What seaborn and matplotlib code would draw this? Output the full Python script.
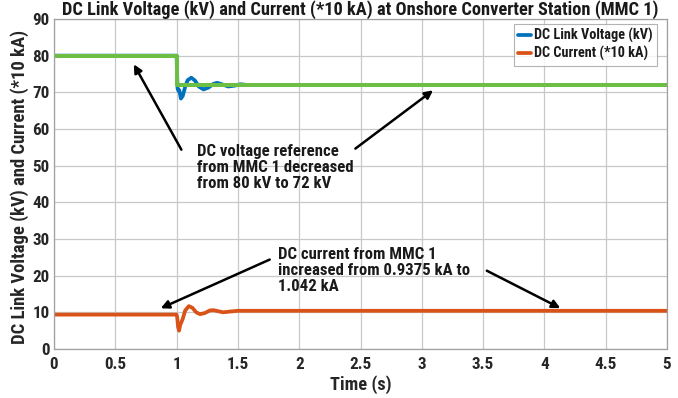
import matplotlib
matplotlib.use("Agg")
import matplotlib.pyplot as plt
from matplotlib import font_manager
import seaborn as sns
import pandas as pd

# ---- data ----
t_voltage = [0.0, 1.0, 1.003, 1.008, 1.015, 1.022, 1.035, 1.05, 1.07, 1.09, 1.12, 1.15,
             1.18, 1.22, 1.26, 1.30, 1.33, 1.37, 1.42, 1.47, 1.52, 1.58, 5.0]
dc_voltage = [80.0, 80.0, 76.0, 71.0, 70.4, 70.6, 68.3, 69.0, 71.5, 73.3, 74.0, 73.2,
              71.6, 70.8, 71.3, 72.3, 72.6, 72.2, 71.6, 71.8, 72.2, 72.0, 72.0]

t_current = [0.0, 1.0, 1.005, 1.012, 1.02, 1.03, 1.04, 1.05, 1.07, 1.10, 1.13, 1.16,
             1.19, 1.23, 1.27, 1.30, 1.34, 1.38, 1.43, 1.50, 5.0]
dc_current = [9.375, 9.375, 8.6, 6.0, 5.0, 6.6, 7.4, 8.2, 10.5, 11.7, 11.2, 10.0,
              9.5, 9.8, 10.5, 10.6, 10.3, 10.0, 10.2, 10.42, 10.42]

t_reference = [0.0, 1.0, 1.0, 5.0]
v_reference = [80.0, 80.0, 72.0, 72.0]

x_ticks = [0, 0.5, 1, 1.5, 2, 2.5, 3, 3.5, 4, 4.5, 5]
y_ticks = [0, 10, 20, 30, 40, 50, 60, 70, 80, 90]

title = "DC Link Voltage (kV) and Current (*10 kA) at Onshore Converter Station (MMC 1)"
x_label = "Time (s)"
y_label = "DC Link Voltage (kV) and Current (*10 kA)"
volt_note = "DC voltage reference\nfrom MMC 1 decreased\nfrom 80 kV to 72 kV"
curr_note = "DC current from MMC 1\nincreased from 0.9375 kA to\n1.042 kA"

BLUE = "#0072BD"
ORANGE = "#D95319"
GREEN = "#6DBE45"

sns.set_theme(style="whitegrid")

# prefer a condensed sans if present
narrow = None
for cand in ["Liberation Sans Narrow", "Arial Narrow", "Nimbus Sans Narrow",
             "Roboto Condensed", "Open Sans Condensed", "Noto Sans Condensed"]:
    try:
        font_manager.findfont(font_manager.FontProperties(family=cand),
                              fallback_to_default=False)
        narrow = cand
        break
    except Exception:
        pass

if narrow:
    main_fam = [narrow, "Liberation Sans", "DejaVu Sans"]
    k = 1.12
else:
    main_fam = ["Liberation Sans", "DejaVu Sans"]
    k = 0.95
plt.rcParams["font.family"] = main_fam
plt.rcParams["font.weight"] = "bold"

df_v = pd.DataFrame({"t": t_voltage, "v": dc_voltage})
df_i = pd.DataFrame({"t": t_current, "v": dc_current})
df_r = pd.DataFrame({"t": t_reference, "v": v_reference})

fig = plt.figure(figsize=(6.78, 3.98), dpi=100)
ax = fig.add_axes([54 / 678, 1 - 349 / 398, 613 / 678, 330 / 398])

sns.lineplot(data=df_v, x="t", y="v", ax=ax, color=BLUE, lw=2.7,
             label="DC Link Voltage (kV)", estimator=None, sort=False)
sns.lineplot(data=df_i, x="t", y="v", ax=ax, color=ORANGE, lw=2.7,
             label="DC Current (*10 kA)", estimator=None, sort=False)
sns.lineplot(data=df_r, x="t", y="v", ax=ax, color=GREEN, lw=2.9,
             estimator=None, sort=False, legend=False)

ax.set_xlim(0, 5)
ax.set_ylim(0, 90)
ax.set_xticks(x_ticks)
ax.set_xticklabels([f"{v:g}" for v in x_ticks])
ax.set_yticks(y_ticks)
ax.grid(True, color="#c8c8c8", lw=0.9)
for s in ax.spines.values():
    s.set_color("#a0a0a0")
    s.set_linewidth(0.9)
ax.tick_params(axis="both", labelsize=11 * k, colors="#262626", length=0)
ax.tick_params(axis="x", pad=6)
ax.tick_params(axis="y", pad=3)
for lab in ax.get_xticklabels() + ax.get_yticklabels():
    lab.set_fontweight("bold")

ax.set_title(title, fontsize=11.8 * k if narrow else 11.8, fontweight="bold",
             color="#1a1a1a", pad=3)
ax.set_xlabel(x_label, fontsize=11.8 * k, fontweight="bold", color="#262626", labelpad=2)
ax.set_ylabel(y_label, fontsize=12.0 * k, fontweight="bold", color="#262626", labelpad=3)
ax.yaxis.set_label_coords(-0.041, 0.49)

leg = ax.legend(loc="upper right", bbox_to_anchor=(1 - 10 / 613, 1 - 5 / 330),
                fontsize=9.2 * k, frameon=True, fancybox=False,
                handlelength=0.9, handletextpad=0.2, borderpad=0.3,
                labelspacing=0.2, borderaxespad=0.0)
leg.get_frame().set_edgecolor("#a0a0a0")
leg.get_frame().set_linewidth(0.8)
for txt in leg.get_texts():
    txt.set_fontweight("bold")
    txt.set_color("#1a1a1a")

arrow = dict(arrowstyle="-|>", color="black", lw=1.8, mutation_scale=12)
ax.annotate("", xy=(0.64, 78.3), xytext=(1.05, 53.7), arrowprops=arrow)
ax.annotate("", xy=(3.11, 71.0), xytext=(2.44, 54.2), arrowprops=arrow)
ax.annotate("", xy=(0.85, 10.8), xytext=(1.78, 24.7), arrowprops=arrow)
ax.annotate("", xy=(4.15, 10.8), xytext=(3.51, 21.7), arrowprops=arrow)

ax.text(1.17, 55.9, volt_note, fontsize=10.8 * k, fontweight="bold", color="#1a1a1a",
        va="top", ha="left", linespacing=1.08)
ax.text(1.83, 27.9, curr_note, fontsize=10.8 * k, fontweight="bold", color="#1a1a1a",
        va="top", ha="left", linespacing=1.08)

fig.savefig("out.png", dpi=100)
